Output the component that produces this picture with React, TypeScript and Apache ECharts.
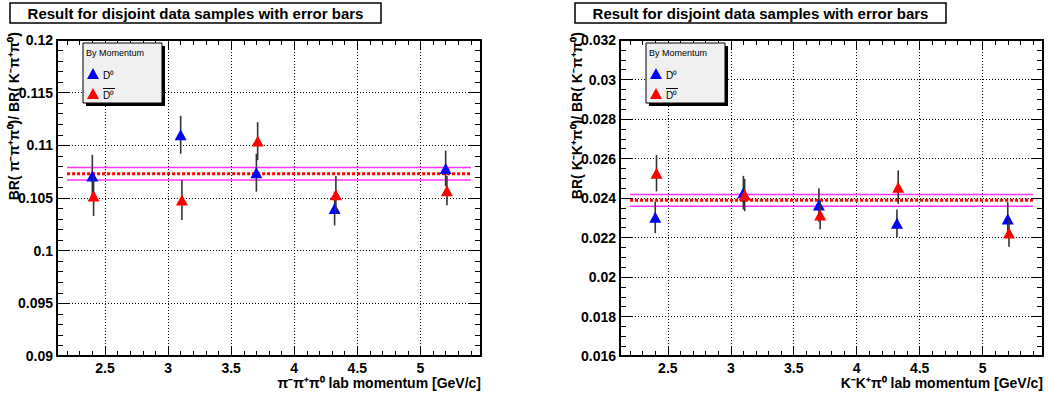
import React, { useEffect, useRef } from 'react';
import * as echarts from 'echarts';

const FONT = '"Liberation Sans", Arial, Helvetica, sans-serif';

// momentum positions (GeV/c)
const blueMomentum = [2.4, 3.1, 3.7, 4.32, 5.2];
const redMomentum = [2.41, 3.11, 3.71, 4.33, 5.21];

// BR(pi- pi+ pi0)/BR(K- pi+ pi0)
const pppBlue = [0.1071, 0.111, 0.1074, 0.104, 0.1078];
const pppBlueErr = [0.002, 0.0018, 0.0018, 0.0016, 0.0017];
const pppRed = [0.1052, 0.1048, 0.1104, 0.1053, 0.1057];
const pppRedErr = [0.0019, 0.0019, 0.0018, 0.0018, 0.0014];
const pppMean = 0.1073;
const pppBand = 0.0006;

// BR(K- K+ pi0)/BR(K- pi+ pi0)
const kkpBlue = [0.02302, 0.02427, 0.02365, 0.02272, 0.02294];
const kkpBlueErr = [0.0008, 0.00085, 0.00085, 0.0007, 0.00085];
const kkpRed = [0.02525, 0.02415, 0.02314, 0.02455, 0.02223];
const kkpRedErr = [0.00092, 0.00082, 0.00072, 0.00085, 0.0007];
const kkpMean = 0.02388;
const kkpBand = 0.0003;

const fitRange = [2.2, 5.4];
const xRange = [2.12, 5.48];
const pppYRange = [0.09, 0.12];
const pppYStep = 0.005;
const kkpYRange = [0.016, 0.032];
const kkpYStep = 0.002;

const titleText = 'Result for disjoint data samples with error bars';
const pppYTitle = 'BR( π⁻π⁺π⁰)/ BR( K⁻π⁺π⁰)';
const kkpYTitle = 'BR( K⁻K⁺π⁰)/ BR( K⁻π⁺π⁰)';
const pppXTitle = 'π⁻π⁺π⁰ lab momentum [GeV/c]';
const kkpXTitle = 'K⁻K⁺π⁰ lab momentum [GeV/c]';
const legendTitle = 'By Momentum';
const legendLabels = ['D⁰', 'D⁰'];

const BLUE = '#0000ff';
const RED = '#ff0000';

function xLabel(v: number) {
  const r = Math.round(v * 2) / 2;
  if (Math.abs(v - r) < 1e-6 && v > xRange[0] && v < xRange[1]) return String(r);
  return '';
}

function buildPanel(
  idx: number,
  left: number,
  width: number,
  yRange: number[],
  yStep: number,
  yMinor: number,
  blue: number[],
  blueErr: number[],
  red: number[],
  redErr: number[],
  mean: number,
  band: number,
  yTitle: string,
  xTitle: string
) {
  const top = 40;
  const height = 316;
  const grid = { left, top, width, height, containLabel: false, outerBoundsMode: 'none', show: false };
  const frame = { show: true, lineStyle: { color: '#000', width: 2 } };
  const tickX = { show: true, inside: true, length: 10, lineStyle: { color: '#000', width: 1 } };
  const minorX = { show: true, splitNumber: 5, length: 5, lineStyle: { color: '#000', width: 1 } };
  const tickY = { show: true, inside: true, length: 12, lineStyle: { color: '#000', width: 1 } };
  const minorY = { show: true, splitNumber: yMinor, length: 6, lineStyle: { color: '#000', width: 1 } };
  const gridLine = { show: true, lineStyle: { color: '#000', width: 1, type: [1, 2] } };
  const xAxes = [
    {
      type: 'value', gridIndex: idx, position: 'bottom', min: xRange[0], max: xRange[1],
      axisLine: frame, axisTick: tickX, minorTick: minorX, splitLine: gridLine,
      axisLabel: { show: true, formatter: xLabel, margin: 5, color: '#000', fontFamily: FONT, fontWeight: 'bold', fontSize: 14 },
    },
    {
      type: 'value', gridIndex: idx, position: 'top', min: xRange[0], max: xRange[1],
      axisLine: frame, axisTick: tickX, minorTick: minorX, splitLine: { show: false },
      axisLabel: { show: false },
    },
  ];
  const yAxes = [
    {
      type: 'value', gridIndex: idx, position: 'left', min: yRange[0], max: yRange[1], interval: yStep,
      axisLine: frame, axisTick: tickY, minorTick: minorY, splitLine: gridLine,
      axisLabel: { show: true, margin: 4, color: '#000', fontFamily: FONT, fontWeight: 'bold', fontSize: 14 },
    },
    {
      type: 'value', gridIndex: idx, position: 'right', min: yRange[0], max: yRange[1], interval: yStep,
      axisLine: frame, axisTick: tickY, minorTick: minorY, splitLine: { show: false },
      axisLabel: { show: false },
    },
  ];
  const xi = idx * 2;
  const yi = idx * 2;
  const errSeries = (xs: number[], ys: number[], es: number[], z: number) => ({
    type: 'custom',
    xAxisIndex: xi,
    yAxisIndex: yi,
    z,
    silent: true,
    encode: { x: 0, y: 1 },
    data: xs.map((x, i) => [x, ys[i], es[i]]),
    renderItem: (params: any, api: any) => {
      const x = api.value(0);
      const y = api.value(1);
      const e = api.value(2);
      const p1 = api.coord([x, y + e]);
      const p2 = api.coord([x, y - e]);
      return {
        type: 'line',
        shape: { x1: p1[0], y1: p1[1], x2: p2[0], y2: p2[1] },
        style: { stroke: '#333', lineWidth: 1.6 },
      };
    },
  });
  const markSeries = (xs: number[], ys: number[], color: string, z: number) => ({
    type: 'scatter',
    xAxisIndex: xi,
    yAxisIndex: yi,
    z,
    symbol: 'triangle',
    symbolSize: [12, 11],
    itemStyle: { color, opacity: 1 },
    data: xs.map((x, i) => [x, ys[i]]),
  });
  const hLine = (value: number, color: string, width: number, type: any, z: number) => ({
    type: 'line',
    xAxisIndex: xi,
    yAxisIndex: yi,
    z,
    symbol: 'none',
    silent: true,
    lineStyle: { color, width, type },
    data: [[fitRange[0], value], [fitRange[1], value]],
  });
  const series = [
    hLine(mean + band, '#ff33ff', 1.5, 'solid', 2),
    hLine(mean - band, '#ff33ff', 1.5, 'solid', 2),
    hLine(mean, RED, 3, [3, 2], 2),
    errSeries(blueMomentum, blue, blueErr, 3),
    markSeries(blueMomentum, blue, BLUE, 4),
    errSeries(redMomentum, red, redErr, 5),
    markSeries(redMomentum, red, RED, 6),
  ];

  // decorations
  const dx = left - 57;
  const tb = { x: 10 + dx + (idx === 1 ? 2 : 0), y: 3, w: 371, h: 20 };
  const lg = { x: 83 + dx, y: 43, w: 79, h: 60 };
  const graphics: any[] = [
    { type: 'rect', z: 100, shape: { x: tb.x, y: tb.y, width: tb.w, height: tb.h }, style: { fill: '#fff', stroke: '#000', lineWidth: 1.5 } },
    {
      type: 'text', z: 101, x: tb.x + tb.w / 2, y: tb.y + tb.h / 2 + 0.5,
      style: { text: titleText, fill: '#000', font: `bold 15px ${FONT}`, align: 'center', verticalAlign: 'middle', textAlign: 'center', textVerticalAlign: 'middle' },
    },
    // legend shadow + box
    { type: 'rect', z: 100, shape: { x: lg.x + 3, y: lg.y + 3, width: lg.w, height: lg.h }, style: { fill: '#000' } },
    { type: 'rect', z: 101, shape: { x: lg.x, y: lg.y, width: lg.w, height: lg.h }, style: { fill: '#f0f0f0', stroke: '#000', lineWidth: 1 } },
    {
      type: 'text', z: 102, x: lg.x + 3, y: lg.y + 10,
      style: { text: legendTitle, fill: '#000', font: `9px ${FONT}`, align: 'left', verticalAlign: 'middle', textAlign: 'left', textVerticalAlign: 'middle' },
    },
    { type: 'polygon', z: 102, shape: { points: [[lg.x + 10, lg.y + 25], [lg.x + 4, lg.y + 36], [lg.x + 16, lg.y + 36]] }, style: { fill: BLUE } },
    {
      type: 'text', z: 102, x: lg.x + 20, y: lg.y + 32,
      style: { text: legendLabels[0], fill: '#000', font: `10px ${FONT}`, align: 'left', verticalAlign: 'middle', textAlign: 'left', textVerticalAlign: 'middle' },
    },
    { type: 'polygon', z: 102, shape: { points: [[lg.x + 10, lg.y + 45], [lg.x + 4, lg.y + 56], [lg.x + 16, lg.y + 56]] }, style: { fill: RED } },
    {
      type: 'text', z: 102, x: lg.x + 20, y: lg.y + 52,
      style: { text: legendLabels[1], fill: '#000', font: `10px ${FONT}`, align: 'left', verticalAlign: 'middle', textAlign: 'left', textVerticalAlign: 'middle' },
    },
    { type: 'line', z: 102, shape: { x1: lg.x + 20, y1: lg.y + 45.5, x2: lg.x + 32, y2: lg.y + 45.5 }, style: { stroke: '#000', lineWidth: 1 } },
    // axis titles
    {
      type: 'text', z: 50, x: left - 43, y: 32, rotation: Math.PI / 2,
      style: { text: yTitle, fill: '#000', font: `bold 14px ${FONT}`, align: 'right', verticalAlign: 'middle', textAlign: 'right', textVerticalAlign: 'middle' },
    },
    {
      type: 'text', z: 50, x: left + width, y: 383,
      style: { text: xTitle, fill: '#000', font: `bold 14px ${FONT}`, align: 'right', verticalAlign: 'middle', textAlign: 'right', textVerticalAlign: 'middle' },
    },
  ];
  return { grid, xAxes, yAxes, series, graphics };
}

export default function App() {
  const ref = useRef<HTMLDivElement>(null);
  useEffect(() => {
    document.body.style.margin = '0';
    if (!ref.current) return;
    const chart = echarts.init(ref.current, undefined, { renderer: 'svg' });
    const p0 = buildPanel(0, 57, 424, pppYRange, pppYStep, 5, pppBlue, pppBlueErr, pppRed, pppRedErr, pppMean, pppBand, pppYTitle, pppXTitle);
    const p1 = buildPanel(1, 620, 423, kkpYRange, kkpYStep, 4, kkpBlue, kkpBlueErr, kkpRed, kkpRedErr, kkpMean, kkpBand, kkpYTitle, kkpXTitle);
    chart.setOption({
      animation: false,
      backgroundColor: '#fff',
      textStyle: { fontFamily: FONT },
      grid: [p0.grid, p1.grid],
      xAxis: [...p0.xAxes, ...p1.xAxes],
      yAxis: [...p0.yAxes, ...p1.yAxes],
      series: [...p0.series, ...p1.series],
      graphic: { elements: [...p0.graphics, ...p1.graphics] },
    });
    return () => chart.dispose();
  }, []);
  return <div ref={ref} style={{ width: 1050, height: 397 }} />;
}
